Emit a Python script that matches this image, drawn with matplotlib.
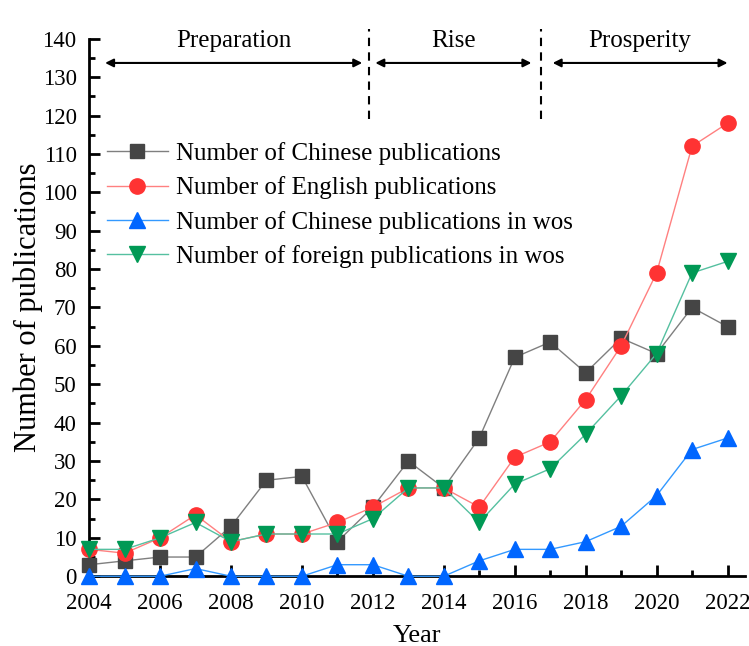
import numpy as np
import matplotlib.pyplot as plt
from matplotlib.ticker import MultipleLocator

years = np.arange(2004, 2023)
chinese = [3, 4, 5, 5, 13, 25, 26, 9, 18, 30, 23, 36, 57, 61, 53, 62, 58, 70, 65]
english = [7, 6, 10, 16, 9, 11, 11, 14, 18, 23, 23, 18, 31, 35, 46, 60, 79, 112, 118]
chinese_wos = [0, 0, 0, 2, 0, 0, 0, 3, 3, 0, 0, 4, 7, 7, 9, 13, 21, 33, 36]
foreign_wos = [7, 7, 10, 14, 9, 11, 11, 11, 15, 23, 23, 14, 24, 28, 37, 47, 58, 79, 82]

labels = ["Number of Chinese publications",
          "Number of English publications",
          "Number of Chinese publications in wos",
          "Number of foreign publications in wos"]

stages = ["Preparation", "Rise", "Prosperity"]
stage_bounds = [(2004.45, 2011.7), (2012.07, 2016.47), (2017.07, 2022.0)]
stage_dividers = [2011.9, 2016.75]

plt.rcParams['font.family'] = ['Liberation Serif', 'DejaVu Serif']

fig = plt.figure(figsize=(7.49, 6.46), dpi=100)
ax = fig.add_axes([0.119, 0.108, 0.876, 0.832])

ax.plot(years, chinese, color="#7f7f7f", lw=1.0, marker="s", ms=9.5,
        mfc="#454545", mec="#454545", label=labels[0], clip_on=False, zorder=3)
ax.plot(years, english, color="#ff8080", lw=1.0, marker="o", ms=11,
        mfc="#ff3333", mec="#ff3333", label=labels[1], clip_on=False, zorder=3)
ax.plot(years, chinese_wos, color="#3399ff", lw=1.0, marker="^", ms=11,
        mfc="#0066ff", mec="#0066ff", label=labels[2], clip_on=False, zorder=3)
ax.plot(years, foreign_wos, color="#55c0a0", lw=1.0, marker="v", ms=11,
        mfc="#009955", mec="#009955", label=labels[3], clip_on=False, zorder=4)

ax.set_xlim(2004, 2022.5)
ax.set_ylim(0, 140)
ax.xaxis.set_major_locator(MultipleLocator(2))
ax.xaxis.set_minor_locator(MultipleLocator(1))
ax.yaxis.set_major_locator(MultipleLocator(10))
ax.yaxis.set_minor_locator(MultipleLocator(5))
ax.tick_params(which="both", direction="in", width=2, labelsize=16.5)
ax.tick_params(which="major", length=8)
ax.tick_params(which="minor", length=4)
ax.tick_params(axis="x", which="major", pad=12)
ax.tick_params(axis="y", which="major", pad=9)
ax.spines["top"].set_visible(False)
ax.spines["right"].set_visible(False)
ax.spines["left"].set_linewidth(2)
ax.spines["bottom"].set_linewidth(2)

ax.set_xlabel("Year", fontsize=19, labelpad=8)
ax.set_ylabel("Number of publications", fontsize=22, labelpad=0)

# stage dividers and arrows
for xd in stage_dividers:
    ax.plot([xd, xd], [119, 142.5], ls=(0, (4, 3)), color="black", lw=1.5,
            clip_on=False)
for name, (x0, x1) in zip(stages, stage_bounds):
    ax.annotate("", xy=(x1, 133.7), xytext=(x0, 133.7),
                arrowprops=dict(arrowstyle="<|-|>", color="black", lw=1.5,
                                mutation_scale=12, shrinkA=0, shrinkB=0))
    ax.text((x0 + x1) / 2, 136.5, name, ha="center", va="bottom", fontsize=18)

ax.legend(loc="upper left", bbox_to_anchor=(0.0, 0.84), frameon=False,
          fontsize=18, handlelength=2.45, handletextpad=0.32, labelspacing=0.45,
          borderaxespad=0.3)

fig.savefig("out.png", dpi=100)
